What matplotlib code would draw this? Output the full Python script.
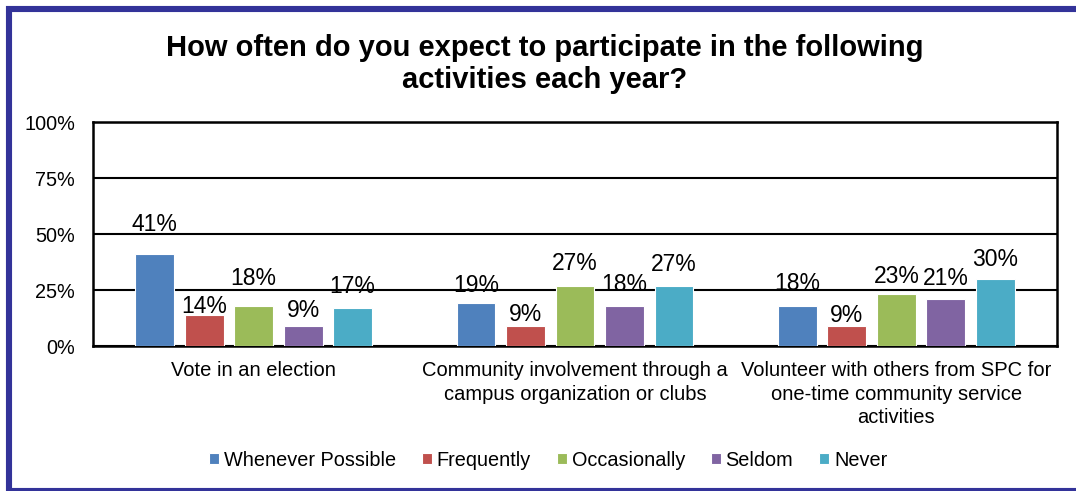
import matplotlib
matplotlib.use("Agg")
import matplotlib.pyplot as plt
from matplotlib.patches import Rectangle
import numpy as np

plt.rcParams['font.family'] = ['Liberation Sans', 'DejaVu Sans']

categories = ['Vote in an election',
              'Community involvement through a\ncampus organization or clubs',
              'Volunteer with others from SPC for\none-time community service\nactivities']
series = ['Whenever Possible', 'Frequently', 'Occasionally', 'Seldom', 'Never']
whenever = [41, 19, 18]
frequently = [14, 9, 9]
occasionally = [18, 27, 23]
seldom = [9, 18, 21]
never = [17, 27, 30]
values = [whenever, frequently, occasionally, seldom, never]
colors = ['#4F81BD', '#C0504D', '#9BBB59', '#8064A2', '#4BACC6']

# distance from bar top to label centre, in points (rows follow series)
label_lift = [[23, 15, 18],
              [8, 10, 9.4],
              [21.6, 17.3, 15.1],
              [13, 17.3, 16.6],
              [17.3, 16.6, 15.8]]

fig = plt.figure(figsize=(10.76, 4.91), dpi=100)
ax = fig.add_axes([93/1076, 1-346/491, (1057-93)/1076, (346-122)/491])

x = np.arange(len(categories))
width = 0.121
step = 0.154
for i, (name, vals, col) in enumerate(zip(series, values, colors)):
    pos = x + (i - 2) * step
    bars = ax.bar(pos, vals, width, color=col, edgecolor='white', linewidth=0.8,
                  label=name, zorder=3)
    for b, v, lift in zip(bars, vals, label_lift[i]):
        ax.annotate(f'{v}%', (b.get_x() + b.get_width()/2, v),
                    xytext=(0, lift), textcoords='offset points',
                    ha='center', va='center_baseline', fontsize=16.5, zorder=4)

ax.set_xlim(-0.5, 2.5)
ax.set_ylim(0, 100)
ax.set_yticks([0, 25, 50, 75, 100])
ax.set_yticklabels(['0%', '25%', '50%', '75%', '100%'], fontsize=14.3)
ax.yaxis.grid(True, color='black', linewidth=1.5, zorder=0)
ax.set_axisbelow(True)
ax.tick_params(axis='y', length=0, pad=13)
ax.tick_params(axis='x', length=0, pad=11)
ax.set_xticks(x)
ax.set_xticklabels(categories, fontsize=14.5, linespacing=1.3, va='top')
for s in ax.spines.values():
    s.set_linewidth(1.8)
    s.set_color('black')

fig.text(545/1076, 1-64/491, 'How often do you expect to participate in the following\nactivities each year?',
         ha='center', va='center', fontsize=21, fontweight='bold', linespacing=1.2)

fig.legend(loc='center', bbox_to_anchor=(548/1076, 1-460/491), ncol=5, frameon=False,
           fontsize=14.3, handlelength=0.5, handleheight=0.5, handletextpad=0.25,
           columnspacing=1.3)

# outer frame, open on the right edge
fig.patches.append(Rectangle((9/1076, 0), 1.1, 1-9/491,
                             transform=fig.transFigure, fill=False,
                             edgecolor='#333399', linewidth=4.4))

fig.savefig('out.png', dpi=100)
